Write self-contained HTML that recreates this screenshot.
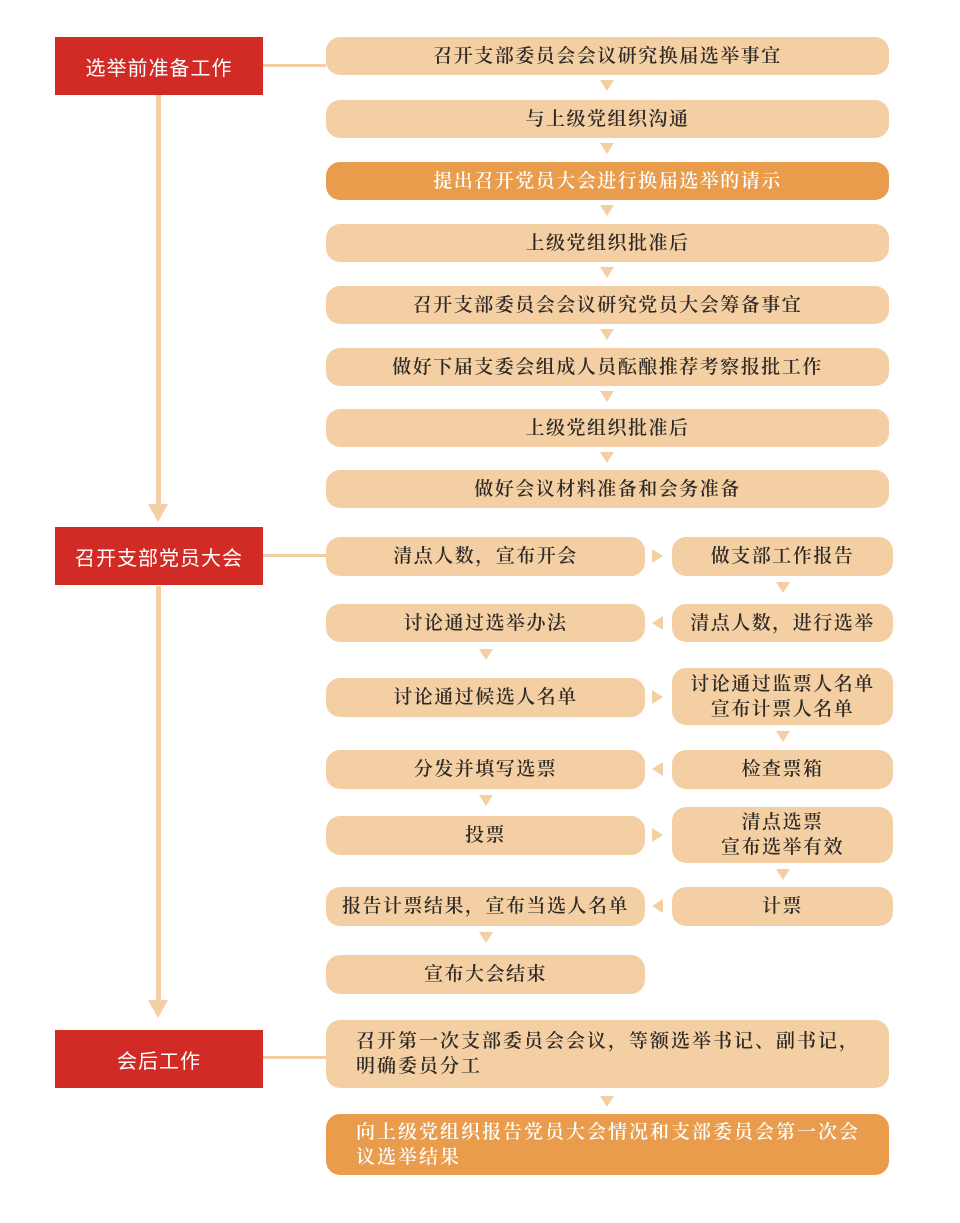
<!DOCTYPE html>
<html><head><meta charset="utf-8"><style>
body{margin:0;width:960px;height:1223px;background:#fff;position:relative;overflow:hidden;font-family:"Liberation Serif","Noto Serif CJK SC",serif;}
.b{position:absolute;background:#f4cfa3;border-radius:14px;color:#2e2a26;font-size:19px;font-weight:600;letter-spacing:1.5px;display:flex;align-items:center;justify-content:center;text-align:center;line-height:25px;}
.o{background:#e89c4c;color:#fff;}
.r{position:absolute;left:55px;width:208px;height:58px;background:#d22b26;color:#fff;font-family:"Liberation Sans","Noto Sans CJK SC",sans-serif;font-size:20px;letter-spacing:1px;display:flex;align-items:center;justify-content:center;}
.h{position:absolute;left:263px;width:63px;height:3px;background:#f4cfa3;}
.v{position:absolute;left:156px;width:5px;background:#f4cfa3;}
.ad{position:absolute;width:0;height:0;border-left:7px solid transparent;border-right:7px solid transparent;border-top:11px solid #f4cfa3;}
.ar{position:absolute;width:0;height:0;border-top:7px solid transparent;border-bottom:7px solid transparent;border-left:11px solid #f4cfa3;}
.al{position:absolute;width:0;height:0;border-top:7px solid transparent;border-bottom:7px solid transparent;border-right:11px solid #f4cfa3;}
.bigd{position:absolute;width:0;height:0;border-left:10px solid transparent;border-right:10px solid transparent;border-top:18px solid #f4cfa3;}
</style></head><body>
<div class="r" style="top:37px">选举前准备工作</div>
<div class="r" style="top:527px">召开支部党员大会</div>
<div class="r" style="top:1030px">会后工作</div>
<div class="h" style="top:64px"></div>
<div class="h" style="top:554px"></div>
<div class="h" style="top:1056px"></div>
<div class="v" style="top:95px;height:412px"></div>
<div class="bigd" style="left:148px;top:504px"></div>
<div class="v" style="top:586px;height:416px"></div>
<div class="bigd" style="left:148px;top:1000px"></div>

<div class="b" style="left:326px;top:37px;width:563px;height:38px">召开支部委员会会议研究换届选举事宜</div>
<div class="ad" style="left:600px;top:80px"></div>
<div class="b" style="left:326px;top:100px;width:563px;height:38px">与上级党组织沟通</div>
<div class="ad" style="left:600px;top:143px"></div>
<div class="b o" style="left:326px;top:162px;width:563px;height:38px">提出召开党员大会进行换届选举的请示</div>
<div class="ad" style="left:600px;top:205px"></div>
<div class="b" style="left:326px;top:224px;width:563px;height:38px">上级党组织批准后</div>
<div class="ad" style="left:600px;top:267px"></div>
<div class="b" style="left:326px;top:286px;width:563px;height:38px">召开支部委员会会议研究党员大会筹备事宜</div>
<div class="ad" style="left:600px;top:329px"></div>
<div class="b" style="left:326px;top:348px;width:563px;height:38px">做好下届支委会组成人员酝酿推荐考察报批工作</div>
<div class="ad" style="left:600px;top:391px"></div>
<div class="b" style="left:326px;top:409px;width:563px;height:38px">上级党组织批准后</div>
<div class="ad" style="left:600px;top:452px"></div>
<div class="b" style="left:326px;top:470px;width:563px;height:38px">做好会议材料准备和会务准备</div>

<div class="b" style="left:326px;top:537px;width:319px;height:39px">清点人数，宣布开会</div>
<div class="ar" style="left:652px;top:549px"></div>
<div class="b" style="left:672px;top:537px;width:221px;height:39px">做支部工作报告</div>
<div class="ad" style="left:776px;top:582px"></div>
<div class="b" style="left:326px;top:604px;width:319px;height:38px">讨论通过选举办法</div>
<div class="al" style="left:652px;top:616px"></div>
<div class="b" style="left:672px;top:604px;width:221px;height:38px">清点人数，进行选举</div>
<div class="ad" style="left:479px;top:649px"></div>
<div class="b" style="left:326px;top:678px;width:319px;height:39px">讨论通过候选人名单</div>
<div class="ar" style="left:652px;top:690px"></div>
<div class="b" style="left:672px;top:668px;width:221px;height:57px">讨论通过监票人名单<br>宣布计票人名单</div>
<div class="ad" style="left:776px;top:731px"></div>
<div class="b" style="left:326px;top:750px;width:319px;height:39px">分发并填写选票</div>
<div class="al" style="left:652px;top:762px"></div>
<div class="b" style="left:672px;top:750px;width:221px;height:39px">检查票箱</div>
<div class="ad" style="left:479px;top:795px"></div>
<div class="b" style="left:326px;top:816px;width:319px;height:39px">投票</div>
<div class="ar" style="left:652px;top:828px"></div>
<div class="b" style="left:672px;top:807px;width:221px;height:56px">清点选票<br>宣布选举有效</div>
<div class="ad" style="left:776px;top:869px"></div>
<div class="b" style="left:326px;top:887px;width:319px;height:39px">报告计票结果，宣布当选人名单</div>
<div class="al" style="left:652px;top:899px"></div>
<div class="b" style="left:672px;top:887px;width:221px;height:39px">计票</div>
<div class="ad" style="left:479px;top:932px"></div>
<div class="b" style="left:326px;top:955px;width:319px;height:39px">宣布大会结束</div>

<div class="b" style="left:326px;top:1020px;width:563px;height:68px;justify-content:flex-start;text-align:left;padding-left:30px;box-sizing:border-box;letter-spacing:2px;">召开第一次支部委员会会议，等额选举书记、副书记，<br>明确委员分工</div>
<div class="ad" style="left:600px;top:1096px"></div>
<div class="b o" style="left:326px;top:1114px;width:563px;height:61px;justify-content:flex-start;text-align:left;padding-left:30px;box-sizing:border-box;letter-spacing:2px;">向上级党组织报告党员大会情况和支部委员会第一次会<br>议选举结果</div>
</body></html>
